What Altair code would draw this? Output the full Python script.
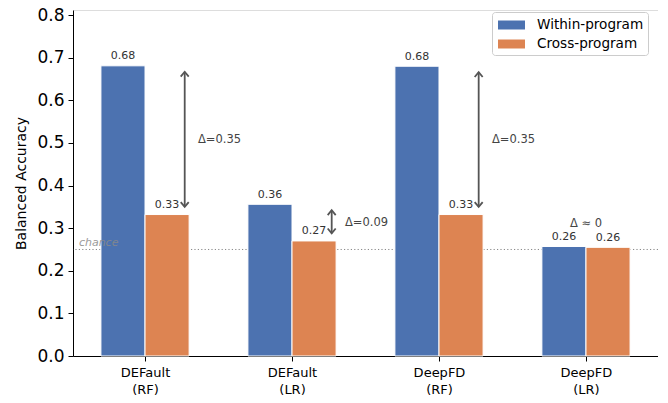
import json
import altair as alt
import pandas as pd

# ---------------- data ----------------
categories = ["DEFault\n(RF)", "DEFault\n(LR)", "DeepFD\n(RF)", "DeepFD\n(LR)"]
series_names = ["Within-program", "Cross-program"]
within_vals = [0.681, 0.356, 0.680, 0.257]
cross_vals = [0.332, 0.270, 0.332, 0.255]
within_text = ["0.68", "0.36", "0.68", "0.26"]
cross_text = ["0.33", "0.27", "0.33", "0.26"]
delta_text = ["Δ=0.35", "Δ=0.09", "Δ=0.35", "Δ ≈ 0"]
arrow_groups = [0, 1, 2]
flat_groups = [3]
chance_level = 0.25
y_ticks = [0.0, 0.1, 0.2, 0.3, 0.4, 0.5, 0.6, 0.7, 0.8]
colors = ["#4C72B0", "#DD8452"]

# ---------------- style constants ----------------
BAR_W = 0.3
ARROW_DX = 0.27
TEXT_DX = 0.36
FONT = "DejaVu Sans"
ARROW_COLOR = "#555555"

rows = []
for i in range(len(categories)):
    rows.append(dict(pos=i, series=series_names[0], x0=i - BAR_W, x1=i,
                     xc=i - BAR_W / 2, value=within_vals[i], label=within_text[i]))
    rows.append(dict(pos=i, series=series_names[1], x0=i, x1=i + BAR_W,
                     xc=i + BAR_W / 2, value=cross_vals[i], label=cross_text[i]))
bars_df = pd.DataFrame(rows)

arrow_df = pd.DataFrame({
    "x": [g + ARROW_DX for g in arrow_groups],
    "tx": [g + TEXT_DX for g in arrow_groups],
    "lo": [cross_vals[g] + 0.018 for g in arrow_groups],
    "hi": [within_vals[g] - 0.014 for g in arrow_groups],
    "mid": [(within_vals[g] + cross_vals[g]) / 2 for g in arrow_groups],
    "text": [delta_text[g] for g in arrow_groups],
})
flat_df = pd.DataFrame({
    "x": [float(g) for g in flat_groups],
    "y": [max(within_vals[g], cross_vals[g]) + 0.052 for g in flat_groups],
    "text": [delta_text[g] for g in flat_groups],
})
chance_df = pd.DataFrame({"y": [chance_level], "x": [-0.45], "text": ["chance"]})

xscale = alt.Scale(domain=[-0.49, 3.49], nice=False, zero=False)
yscale = alt.Scale(domain=[0, 0.812], nice=False, zero=False)

label_expr = "split(" + json.dumps(categories) + "[datum.value], '\\n')"
x_axis = alt.Axis(values=[0, 1, 2, 3], labelExpr=label_expr, title=None, grid=False,
                  tickSize=5, tickColor="black", domainColor="black",
                  labelFontSize=13, labelColor="black", labelPadding=5,
                  labelLineHeight=17, labelFont=FONT)
y_axis = alt.Axis(values=y_ticks, format=".1f", title="Balanced Accuracy", grid=False,
                  tickSize=5, tickColor="black", domainColor="black",
                  labelFontSize=17, labelColor="black", labelPadding=4, labelFont=FONT,
                  titleFontSize=14, titleFontWeight="normal", titleColor="black",
                  titlePadding=8, titleFont=FONT)


def X(field):
    return alt.X(field, type="quantitative", scale=xscale, axis=x_axis, title=None)


def Y(field):
    return alt.Y(field, type="quantitative", scale=yscale, axis=y_axis,
                 title="Balanced Accuracy")


chance_rule = alt.Chart(chance_df).mark_rule(
    strokeDash=[1.2, 2.2], color="#888888", strokeWidth=1
).encode(y=Y("y"))

bars = alt.Chart(bars_df).mark_bar(stroke="white", strokeWidth=1, opacity=1).encode(
    x=X("x0"), x2="x1", y=Y("value"), y2=alt.datum(0),
    color=alt.Color("series:N", scale=alt.Scale(domain=series_names, range=colors),
                    legend=alt.Legend(title=None, orient="none", legendX=419, legendY=2,
                                      symbolType="M-0.78,-0.5H2.22V0.5H-0.78Z",
                                      symbolSize=324, symbolStrokeWidth=0,
                                      symbolOpacity=1,
                                      labelFontSize=13.6, labelFont=FONT,
                                      labelColor="black", labelOffset=23,
                                      padding=4, rowPadding=3,
                                      strokeColor="#cccccc", fillColor="white",
                                      cornerRadius=3)),
)

chance_text = alt.Chart(chance_df).mark_text(
    align="left", baseline="alphabetic", dy=-3, fontStyle="italic",
    fontSize=11, color="#8a8a8a", opacity=0.85, font=FONT
).encode(x=X("x"), y=Y("y"), text="text:N")

value_text = alt.Chart(bars_df).mark_text(
    baseline="alphabetic", dy=-6.5, fontSize=11, color="#333333", font=FONT
).encode(x=X("xc"), y=Y("value"), text="label:N")

arrow_rule = alt.Chart(arrow_df).mark_rule(color=ARROW_COLOR, strokeWidth=1.8).encode(
    x=X("x"), y=Y("lo"), y2="hi")

head_up = alt.Chart(arrow_df).mark_point(
    shape="M-1,1.2L0,0L1,1.2", filled=False, size=64, strokeWidth=1.8,
    color=ARROW_COLOR, opacity=1
).encode(x=X("x"), y=Y("hi"))

head_down = alt.Chart(arrow_df).mark_point(
    shape="M-1,-1.2L0,0L1,-1.2", filled=False, size=64, strokeWidth=1.8,
    color=ARROW_COLOR, opacity=1
).encode(x=X("x"), y=Y("lo"))

delta_labels = alt.Chart(arrow_df).mark_text(
    align="left", baseline="middle", fontSize=11.5, color="#444444", font=FONT
).encode(x=X("tx"), y=Y("mid"), text="text:N")

flat_labels = alt.Chart(flat_df).mark_text(
    align="center", baseline="middle", fontSize=11.5, color="#444444", font=FONT
).encode(x=X("x"), y=Y("y"), text="text:N")

chart = alt.layer(
    chance_rule, bars, chance_text, value_text, arrow_rule, head_up, head_down,
    delta_labels, flat_labels
).properties(
    width=585, height=346,
    autosize=alt.AutoSizeParams(type="none"),
    padding={"left": 65, "top": 2, "right": 0, "bottom": 39},
).configure_view(stroke=None).configure(font=FONT)

chart.save("out.html", embed_options={"renderer": "svg", "actions": False})
